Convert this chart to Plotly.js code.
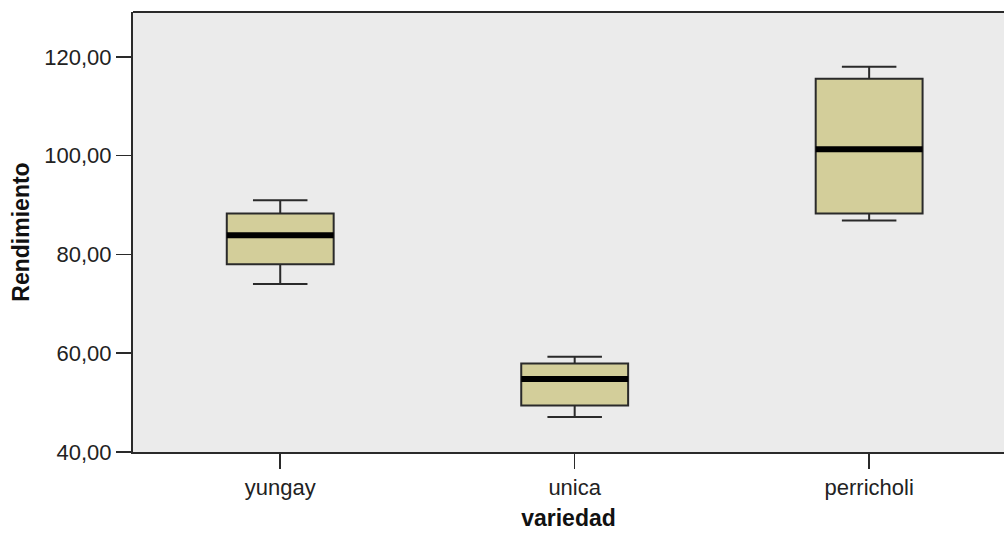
<!DOCTYPE html>
<html>
<head>
<meta charset="utf-8">
<script src="https://cdn.plot.ly/plotly-3.0.1.min.js"></script>
<style>
  html, body { margin: 0; padding: 0; background: #ffffff; }
  #chart { width: 1004px; height: 536px; }
</style>
</head>
<body>
<div id="chart"></div>
<script>
// Data
const categories = ["yungay", "unica", "perricholi"];
const lowerWhisker = [74.0, 47.1, 86.9];
const q1Values     = [78.0, 49.4, 88.3];
const medianValues = [83.9, 54.8, 101.3];
const q3Values     = [88.3, 57.9, 115.6];
const upperWhisker = [91.0, 59.3, 118.0];
const yTickValues  = [40, 60, 80, 100, 120];

const boxWidth = 0.363;
const font = "Liberation Sans, Arial, sans-serif";

const boxTrace = {
  type: "box",
  x: categories,
  q1: q1Values,
  median: medianValues,
  q3: q3Values,
  lowerfence: lowerWhisker,
  upperfence: upperWhisker,
  width: boxWidth,
  whiskerwidth: 0.51,
  fillcolor: "rgb(211,206,154)",
  line: { color: "#2a2a2a", width: 2 },
  boxpoints: false,
  hoverinfo: "skip",
  showlegend: false
};

// thick median bars, built from the median array
const medianShapes = medianValues.map((m, i) => ({
  type: "line",
  xref: "x", yref: "y",
  x0: i - boxWidth / 2, x1: i + boxWidth / 2,
  y0: m, y1: m,
  line: { color: "#000000", width: 6 }
}));

// top border of the plot frame
const frameShapes = [{
  type: "line", xref: "paper", yref: "paper",
  x0: 0, x1: 1, y0: 1, y1: 1,
  line: { color: "#2a2a2a", width: 2 }
}];

const layout = {
  width: 1004,
  height: 536,
  margin: { l: 133, r: 0, t: 12, b: 84, pad: 0 },
  paper_bgcolor: "#ffffff",
  plot_bgcolor: "rgb(235,235,235)",
  separators: ",.",
  font: { family: font, size: 22, color: "#222222" },
  showlegend: false,
  xaxis: {
    type: "category",
    categoryarray: categories,
    range: [-0.5, 2.458],
    showgrid: false,
    zeroline: false,
    showline: true,
    linecolor: "#2a2a2a",
    linewidth: 2,
    ticks: "outside",
    ticklen: 15,
    tickwidth: 1.5,
    tickcolor: "#2a2a2a",
    tickfont: { family: font, size: 22, color: "#222222" },
    title: { text: "variedad", font: { family: font, size: 23, color: "#111111", weight: "bold" }, standoff: 10 }
  },
  yaxis: {
    range: [40, 129.1],
    tickvals: yTickValues,
    tickformat: ".2f",
    showgrid: false,
    zeroline: false,
    showline: true,
    linecolor: "#2a2a2a",
    linewidth: 2,
    ticks: "outside",
    ticklen: 15,
    tickwidth: 1.5,
    tickcolor: "#2a2a2a",
    tickfont: { family: font, size: 22, color: "#222222" },
    title: { text: "Rendimiento", font: { family: font, size: 23, color: "#111111", weight: "bold" }, standoff: 8 }
  },
  shapes: medianShapes.concat(frameShapes)
};

Plotly.newPlot("chart", [boxTrace], layout, { staticPlot: true, displayModeBar: false });
</script>
</body>
</html>
